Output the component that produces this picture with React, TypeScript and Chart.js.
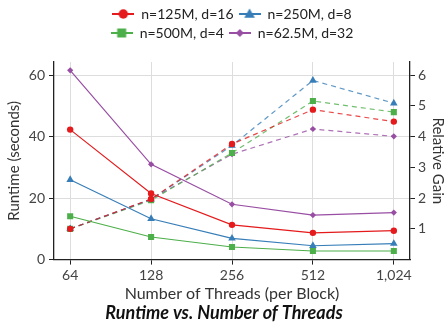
import React, { useEffect, useRef } from 'react';
import { Chart, registerables } from 'chart.js';

Chart.register(...registerables);

// ---- data ----
const threadLabels = ['64', '128', '256', '512', '1,024'];
const seriesNames = ['n=125M, d=16', 'n=250M, d=8', 'n=500M, d=4', 'n=62.5M, d=32'];

const runtime125M = [42.3, 21.5, 11.3, 8.7, 9.4];
const runtime250M = [26.0, 13.3, 6.9, 4.5, 5.2];
const runtime500M = [14.1, 7.35, 4.1, 2.8, 2.8];
const runtime62M = [61.6, 31.0, 18.0, 14.5, 15.3];

const gain125M = [1.0, 1.97, 3.76, 4.88, 4.49];
const gain250M = [1.0, 1.96, 3.71, 5.83, 5.09];
const gain500M = [1.0, 1.93, 3.47, 5.16, 4.8];
const gain62M = [1.0, 1.97, 3.43, 4.25, 4.01];

const leftTicks = [0, 20, 40, 60];
const rightTicks = [1, 2, 3, 4, 5, 6];

// ---- styles ----
const colors = ['#e41a1c', '#377eb8', '#4daf4a', '#984ea3'];
const markers = ['circle', 'triangle', 'rect', 'rectRot'];
const markerRadius = [3.2, 4.4, 4.3, 3.1];
const legendMarkerSize = [4.7, 5.6, 4.5, 4];
const FONT = 'Lato';

const runtimes = [runtime125M, runtime250M, runtime500M, runtime62M];
const gains = [gain125M, gain250M, gain500M, gain62M];

function toPoints(values: number[]) {
  return values.map((v, i) => ({ x: i, y: v }));
}

function makeLegendIcon(color: string, marker: string, r: number) {
  const c = document.createElement('canvas');
  c.width = 22;
  c.height = 14;
  const ctx = c.getContext('2d')!;
  ctx.strokeStyle = color;
  ctx.lineWidth = 2;
  ctx.beginPath();
  ctx.moveTo(0, 7);
  ctx.lineTo(22, 7);
  ctx.stroke();
  ctx.fillStyle = color;
  ctx.beginPath();
  const cx = 11, cy = 7;
  if (marker === 'circle') {
    ctx.arc(cx, cy, r, 0, Math.PI * 2);
  } else if (marker === 'triangle') {
    ctx.moveTo(cx, cy - r);
    ctx.lineTo(cx + r * 0.95, cy + r * 0.65);
    ctx.lineTo(cx - r * 0.95, cy + r * 0.65);
    ctx.closePath();
  } else if (marker === 'rect') {
    ctx.rect(cx - r, cy - r, 2 * r, 2 * r);
  } else {
    ctx.moveTo(cx, cy - r);
    ctx.lineTo(cx + r, cy);
    ctx.lineTo(cx, cy + r);
    ctx.lineTo(cx - r, cy);
    ctx.closePath();
  }
  ctx.fill();
  return c;
}

export default function App() {
  const ref = useRef<HTMLCanvasElement | null>(null);

  useEffect(() => {
    if (!ref.current) return;
    const datasets: any[] = [];
    seriesNames.forEach((name, k) => {
      datasets.push({
        label: name,
        data: toPoints(runtimes[k]),
        yAxisID: 'y',
        borderColor: colors[k],
        backgroundColor: colors[k],
        borderWidth: 1.2,
        pointStyle: markers[k],
        pointRadius: markerRadius[k],
        pointHoverRadius: markerRadius[k],
        pointBorderWidth: 0,
        tension: 0,
        order: k,
      });
    });
    seriesNames.forEach((name, k) => {
      datasets.push({
        label: name + ' (gain)',
        data: toPoints(gains[k]),
        yAxisID: 'y1',
        borderColor: colors[k] + 'cc',
        backgroundColor: colors[k],
        borderWidth: 1.2,
        borderDash: [5, 4],
        pointStyle: markers[k],
        pointRadius: markerRadius[k],
        pointHoverRadius: markerRadius[k],
        pointBorderWidth: 0,
        tension: 0,
        order: 4 + k,
      });
    });

    const chart = new Chart(ref.current, {
      type: 'line',
      data: { datasets },
      options: {
        animation: false,
        responsive: true,
        maintainAspectRatio: false,
        layout: { padding: { left: 0, right: 0, top: 2, bottom: 0 } },
        plugins: {
          tooltip: { enabled: false },
          legend: {
            position: 'top',
            fullSize: false,
            labels: {
              usePointStyle: true,
              pointStyleWidth: 22,
              boxHeight: 14,
              padding: 5,
              color: '#222',
              font: { family: FONT, size: 14 },
              generateLabels: () =>
                seriesNames.map((name, k) => ({
                  text: name,
                  datasetIndex: k,
                  pointStyle: makeLegendIcon(colors[k], markers[k], legendMarkerSize[k]),
                  fillStyle: colors[k],
                  strokeStyle: colors[k],
                  lineWidth: 0,
                  fontColor: '#222',
                  hidden: false,
                })),
            },
          },
          title: {
            display: true,
            position: 'bottom',
            text: 'Runtime vs. Number of Threads',
            color: '#111',
            font: { family: FONT, size: 18, weight: 'bold', style: 'italic' },
            padding: { top: 0, bottom: 0 },
          },
        },
        scales: {
          x: {
            type: 'linear',
            min: -0.2,
            max: 4.2,
            afterBuildTicks: (scale: any) => {
              scale.ticks = threadLabels.map((_, i) => ({ value: i }));
            },
            afterFit: (scale: any) => {
              scale.height = 42.8;
            },
            ticks: {
              autoSkip: false,
              maxRotation: 0,
              padding: 2,
              color: '#444',
              font: { family: FONT, size: 14 },
              callback: (v: any) => threadLabels[v as number],
            },
            grid: { color: '#dddddd', lineWidth: 1, tickColor: '#222', tickLength: 5 },
            border: { display: true, color: '#222', width: 1.3 },
            title: {
              display: true,
              text: 'Number of Threads (per Block)',
              color: '#333',
              font: { family: FONT, size: 16 },
              padding: { top: 0, bottom: -1 },
            },
          },
          xTop: {
            type: 'linear',
            position: 'top',
            display: true,
            min: 0,
            max: 1,
            afterFit: (scale: any) => {
              scale.height = 12;
            },
            ticks: { display: false },
            grid: { display: false, drawTicks: false },
            border: { display: false },
            title: { display: false },
          },
          y: {
            type: 'linear',
            position: 'left',
            min: 0,
            max: 64.3,
            afterBuildTicks: (scale: any) => {
              scale.ticks = leftTicks.map((v) => ({ value: v }));
            },
            afterFit: (scale: any) => {
              scale.width = 54;
            },
            ticks: {
              padding: 4,
              color: '#444',
              font: { family: FONT, size: 14 },
            },
            grid: { color: '#dddddd', lineWidth: 1, tickColor: '#222', tickLength: 5 },
            border: { display: true, color: '#222', width: 1.3 },
            title: {
              display: true,
              text: 'Runtime (seconds)',
              color: '#333',
              font: { family: FONT, size: 15 },
              padding: { top: 5, bottom: 0 },
            },
          },
          y1: {
            type: 'linear',
            position: 'right',
            min: 0,
            max: 6.43,
            afterBuildTicks: (scale: any) => {
              scale.ticks = rightTicks.map((v) => ({ value: v }));
            },
            afterFit: (scale: any) => {
              scale.width = 38;
            },
            ticks: {
              padding: 3,
              color: '#444',
              font: { family: FONT, size: 14 },
            },
            grid: { drawOnChartArea: false, tickColor: '#222', tickLength: 5 },
            border: { display: true, color: '#222', width: 1.3 },
            title: {
              display: true,
              text: 'Relative Gain',
              color: '#333',
              font: { family: FONT, size: 15 },
              padding: { top: 1.5, bottom: 0 },
            },
          },
        },
      },
    });
    return () => chart.destroy();
  }, []);

  return (
    <div style={{ position: 'fixed', left: 0, top: 0, width: 448, height: 324 }}>
      <canvas ref={ref} />
    </div>
  );
}
